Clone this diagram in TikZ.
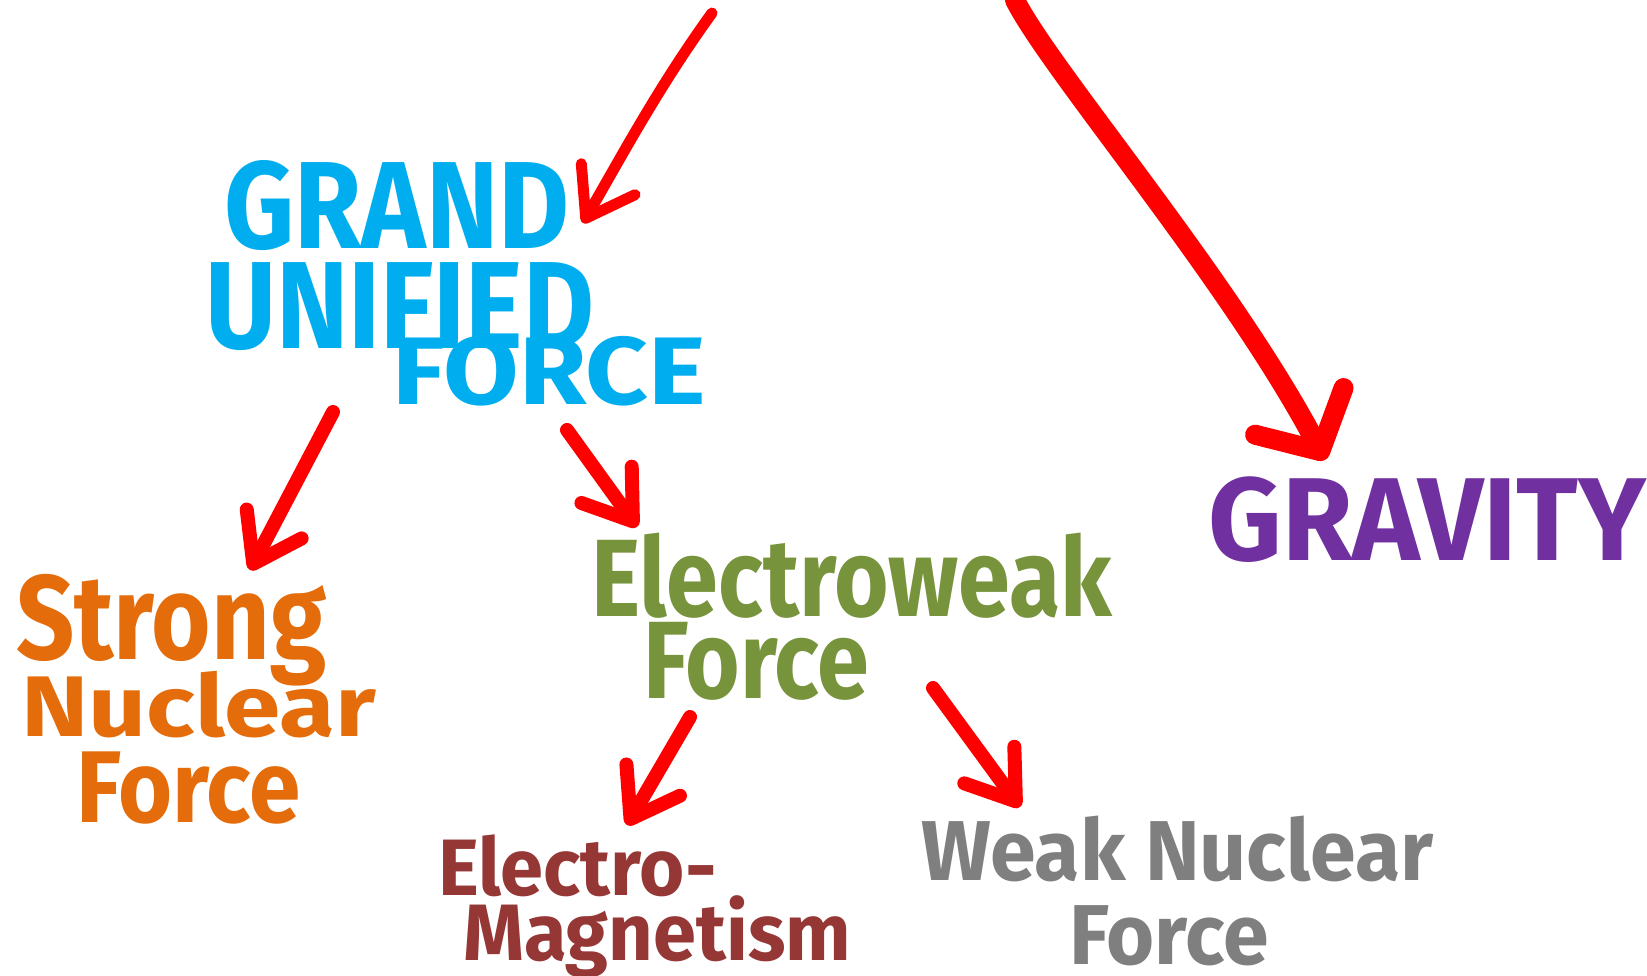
\documentclass[tikz,border=0pt]{standalone}
\usepackage{xcolor}
\usepackage{fontspec}
\newfontfamily\handfont{Fira Sans}
\newcommand{\penText}[3]{{\fontsize{#1}{#1}\selectfont\addfontfeatures{FakeStretch=#2}#3}}
\usetikzlibrary{arrows.meta}

\definecolor{gufBlue}{HTML}{00AEEF}
\definecolor{strongOrange}{HTML}{E46C0A}
\definecolor{ewGreen}{HTML}{77933C}
\definecolor{gravPurple}{HTML}{7030A0}
\definecolor{emBrown}{HTML}{953735}
\definecolor{weakGray}{HTML}{7F7F7F}
\definecolor{arrowRed}{HTML}{FF0000}

\begin{document}
\begin{tikzpicture}[
        x=1pt, y=-1pt,
        forceText/.style 2 args={inner sep=0pt, anchor=north west, align=left,
        font=\handfont\bfseries\fontsize{#1}{#1}\selectfont\addfontfeatures{FakeStretch=#2}},
        redArrow/.style={draw=arrowRed, line width=14pt, line cap=round,
        line join=round, -{Straight Barb[length=45pt,width=62pt,round]}},
    ]
    \useasboundingbox (0,0) rectangle (1647,975);
    \node[forceText={124}{0.88}, text=gufBlue]      (guForce)     at (205,160)  {\hspace*{19pt}GRAND\\[-24pt]UNIFIED\\[-68pt]\hspace*{187pt}\penText{96}{1.14}{FORCE}};
    \node[forceText={100}{0.85}, text=strongOrange] (strongForce) at (16,574)   {\penText{120}{0.85}{Strong}\\[-23pt]\hspace*{5pt}\penText{86}{1.18}{Nuclear}\\[-14pt]\hspace*{60pt}\penText{102}{0.91}{Force}};
    \node[forceText={110}{0.85}, text=ewGreen]      (ewForce)     at (591,533)  {Electroweak\\[-28pt]\hspace*{52pt}Force};
    \node[forceText={118}{0.97}, text=gravPurple]   (gravity)     at (1208,477) {GRAVITY};
    \node[forceText={80}{0.97}, text=emBrown]       (emForce)     at (438,835)  {Electro-\\[-15pt]\hspace*{25pt}Magnetism};
    \node[forceText={85}{0.97}, text=weakGray]      (weakForce)   at (921,816)  {Weak Nuclear\\[-1pt]\hspace*{148pt}Force};
    % the two top arrows come from above the frame
    \coordinate (topLeft)  at (712,13);
    \coordinate (topRight) at (1015,0);
    \draw[redArrow, line width=11pt] (topLeft) .. controls (660,85) and (625,150) .. ([shift={(378,63)}]guForce.north west);
    \draw[redArrow, line width=20pt, -{Straight Barb[length=45pt,width=100pt,round]}]
        (topRight) .. controls (1050,70) and (1230,280) .. ([shift={(117,-17)}]gravity.north west);
    \draw[redArrow] ([shift={(128,252)}]guForce.north west) -- ([shift={(234,-4)}]strongForce.north west);
    \draw[redArrow] ([shift={(362,270)}]guForce.north west) -- ([shift={(46,-6)}]ewForce.north west);
    \draw[redArrow] ([shift={(99,184)}]ewForce.north west) -- ([shift={(189,-10)}]emForce.north west);
    \draw[redArrow] ([shift={(342,155)}]ewForce.north west) -- ([shift={(99,-9)}]weakForce.north west);
\end{tikzpicture}
\end{document}
